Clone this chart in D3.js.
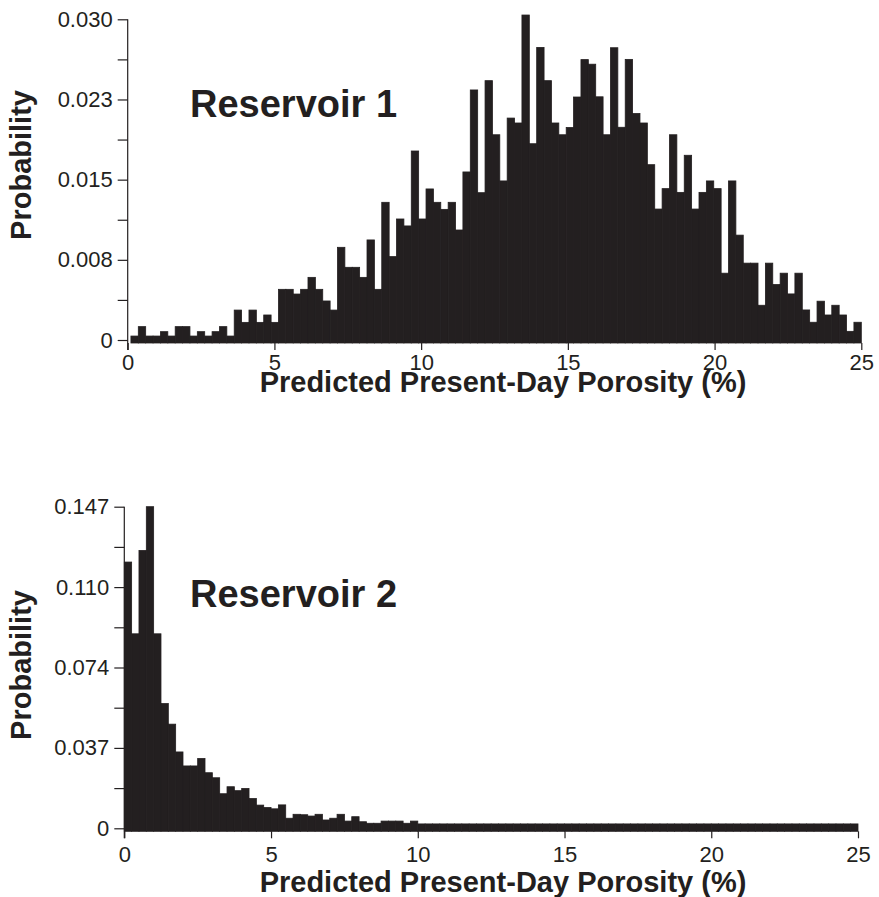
<!DOCTYPE html>
<html>
<head>
<meta charset="utf-8">
<script src="https://cdn.jsdelivr.net/npm/d3@7/dist/d3.min.js"></script>
<style>
    body { margin: 0; background: #ffffff; }
</style>
</head>
<body>
<svg id="chart" width="879" height="897"></svg>
<script>
// x axis (porosity %) shared by both panels
var xTicks = [0, 5, 10, 15, 20, 25];
var xLabel = 'Predicted Present-Day Porosity (%)';
var yLabel = 'Probability';

// Reservoir 1: 99 bins from ~0.11 % to 25 %
var res1Title = 'Reservoir 1';
var res1BinStart = 0.11;
var res1BinEnd = 25;
var res1Values = [
    0.00037, 0.00125, 0.00037, 0.00037, 0.00078, 0.00037, 0.00125, 0.00125, 0.00037, 0.00078,
    0.00037, 0.00078, 0.00125, 0.00037, 0.0028, 0.00165, 0.0028, 0.00165, 0.00234, 0.00165,
    0.00474, 0.00474, 0.0043, 0.00474, 0.00586, 0.00474, 0.00365, 0.0028, 0.00867, 0.0068,
    0.0068, 0.00586, 0.00936, 0.00474, 0.01288, 0.0078, 0.01132, 0.01067, 0.01768, 0.01132,
    0.01413, 0.01288, 0.01222, 0.01288, 0.01029, 0.01572, 0.02339, 0.01378, 0.02426, 0.0192,
    0.01488, 0.02076, 0.0203, 0.0304, 0.01836, 0.02737, 0.02426, 0.0203, 0.0192, 0.01988,
    0.02273, 0.02623, 0.0258, 0.02275, 0.0192, 0.02734, 0.0199, 0.02625, 0.02119, 0.0203,
    0.0164, 0.01225, 0.01416, 0.0192, 0.01381, 0.01728, 0.01225, 0.01381, 0.01488, 0.01416,
    0.00625, 0.01488, 0.00981, 0.00719, 0.00719, 0.00325, 0.00719, 0.00519, 0.00625, 0.00431,
    0.00625, 0.00281, 0.00166, 0.00363, 0.00234, 0.00325, 0.00234, 0.00081, 0.00166
];
var res1YMax = 0.030;
var res1YTicks = [0, 0.0075, 0.015, 0.0225, 0.030];
var res1YLabels = ['0', '0.008', '0.015', '0.023', '0.030'];
var res1YMinor = [0.00375, 0.01125, 0.01875, 0.02625];

// Reservoir 2: 100 bins of 0.25 % from 0 to 25 %
var res2Title = 'Reservoir 2';
var res2BinStart = 0;
var res2BinEnd = 25;
var res2Values = [
    0.1217, 0.0889, 0.127, 0.147, 0.0889, 0.057, 0.0476, 0.0349, 0.0285, 0.0285,
    0.0319, 0.0254, 0.0231, 0.0158, 0.019, 0.0172, 0.0182, 0.0136, 0.0106, 0.0095,
    0.0089, 0.0107, 0.0046, 0.0064, 0.0062, 0.0056, 0.0064, 0.0038, 0.0046, 0.0064,
    0.0033, 0.0053, 0.003, 0.0023, 0.0023, 0.0033, 0.0033, 0.0033, 0.0023, 0.0033,
    0.002, 0.002, 0.002, 0.002, 0.002, 0.002, 0.002, 0.002, 0.002, 0.002,
    0.002, 0.002, 0.002, 0.002, 0.002, 0.002, 0.002, 0.002, 0.002, 0.002,
    0.002, 0.002, 0.002, 0.002, 0.002, 0.002, 0.002, 0.002, 0.002, 0.002,
    0.002, 0.002, 0.002, 0.002, 0.002, 0.002, 0.002, 0.002, 0.002, 0.002,
    0.002, 0.002, 0.002, 0.002, 0.002, 0.002, 0.002, 0.002, 0.002, 0.002,
    0.002, 0.002, 0.002, 0.002, 0.002, 0.002, 0.002, 0.002, 0.002, 0.002
];
var res2YMax = 0.147;
var res2YTicks = [0, 0.03675, 0.0735, 0.11025, 0.147];
var res2YLabels = ['0', '0.037', '0.074', '0.110', '0.147'];
var res2YMinor = [0.018375, 0.055125, 0.091875, 0.128625];

var ink = '#231f20';
var font = '"Liberation Sans", Arial, Helvetica, sans-serif';

var svg = d3.select('#chart');

function drawPanel(p) {
    var g = svg.append('g');

    var x = d3.scaleLinear().domain([0, 25]).range([p.left, p.right]);
    var y = d3.scaleLinear().domain([0, p.yMax]).range([p.bottom, p.top]);
    var base = y(0) + 3;

    var binW = (p.binEnd - p.binStart) / p.values.length;
    var bins = p.values.map(function(v, i) {
        return { x0: p.binStart + i * binW, x1: p.binStart + (i + 1) * binW, v: v };
    });

    // bars
    g.append('g')
        .selectAll('rect')
        .data(bins)
        .enter()
        .append('rect')
        .attr('x', function(d) { return x(d.x0); })
        .attr('width', function(d) { return x(d.x1) - x(d.x0); })
        .attr('y', function(d) { return y(d.v); })
        .attr('height', function(d) { return base - y(d.v); })
        .attr('fill', ink)
        .attr('stroke', ink)
        .attr('stroke-width', 0.8);

    // y axis: major ticks with labels, minor ticks without
    var yAxis = d3.axisLeft(y)
        .tickValues(p.yTicks)
        .tickFormat(function(d, i) { return p.yLabels[i]; })
        .tickSize(10)
        .tickPadding(5);
    var ya = g.append('g').attr('transform', 'translate(' + p.left + ',0)').call(yAxis);
    ya.select('.domain').remove();

    var yMinor = d3.axisLeft(y).tickValues(p.yMinor).tickFormat('').tickSize(10);
    var ym = g.append('g').attr('transform', 'translate(' + p.left + ',0)').call(yMinor);
    ym.select('.domain').remove();

    g.append('line')
        .attr('x1', p.left).attr('x2', p.left)
        .attr('y1', y(p.yMax)).attr('y2', base + 7)
        .attr('stroke', ink)
        .attr('stroke-width', 1.2);

    // x axis below bars
    var xAxis = d3.axisBottom(x).tickValues(xTicks).tickSize(7).tickPadding(p.xPad);
    var xa = g.append('g').attr('transform', 'translate(0,' + base + ')').call(xAxis);
    xa.select('.domain').remove();

    g.selectAll('.tick line').attr('stroke', ink).attr('stroke-width', 1.2);
    g.selectAll('.tick text')
        .attr('fill', ink)
        .style('font-family', font)
        .style('font-size', '22px');

    // labels
    g.append('text')
        .attr('x', 190)
        .attr('y', p.titleY)
        .attr('fill', ink)
        .style('font-family', font)
        .style('font-weight', 'bold')
        .style('font-size', '38px')
        .text(p.title);

    g.append('text')
        .attr('x', 503)
        .attr('y', p.xLabelY)
        .attr('text-anchor', 'middle')
        .attr('fill', ink)
        .style('font-family', font)
        .style('font-weight', 'bold')
        .style('font-size', '29px')
        .text(xLabel);

    g.append('text')
        .attr('transform', 'translate(31,' + p.yLabelY + ') rotate(-90)')
        .attr('text-anchor', 'middle')
        .attr('fill', ink)
        .style('font-family', font)
        .style('font-weight', 'bold')
        .style('font-size', '29px')
        .text(yLabel);
}

drawPanel({
    title: res1Title, values: res1Values, binStart: res1BinStart, binEnd: res1BinEnd,
    yMax: res1YMax, yTicks: res1YTicks, yLabels: res1YLabels, yMinor: res1YMinor,
    left: 127.7, right: 861.3, bottom: 340, top: 19.3,
    xPad: 4, titleY: 117, xLabelY: 392, yLabelY: 165
});

drawPanel({
    title: res2Title, values: res2Values, binStart: res2BinStart, binEnd: res2BinEnd,
    yMax: res2YMax, yTicks: res2YTicks, yLabels: res2YLabels, yMinor: res2YMinor,
    left: 124.3, right: 858, bottom: 828.3, top: 506.7,
    xPad: 8, titleY: 607, xLabelY: 892, yLabelY: 665
});
</script>
</body>
</html>
